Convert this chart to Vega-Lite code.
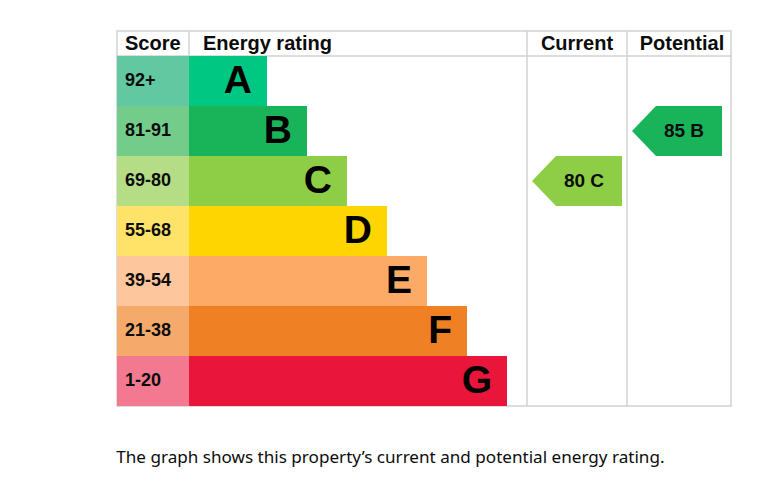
{
  "$schema": "https://vega.github.io/schema/vega-lite/v6.json",
  "width": 614,
  "height": 375,
  "autosize": {"type": "none"},
  "padding": {"left": 117, "top": 31, "right": 51, "bottom": 79},
  "background": "white",
  "view": {"stroke": "#d2d2d2", "strokeWidth": 1.5},
  "config": {"font": "Liberation Sans"},
  "title": {
    "text": "The graph shows this property’s current and potential energy rating.",
    "orient": "bottom",
    "anchor": "start",
    "offset": 42,
    "font": "Noto Sans",
    "fontSize": 17.1,
    "fontWeight": "normal",
    "color": "#0b0c0c"
  },
  "datasets": {
    "header": [
      {"label": "Score", "pos": 8, "kind": "left", "row": "Header"},
      {"label": "Energy rating", "pos": 86, "kind": "left", "row": "Header"},
      {"label": "Current", "pos": 460, "kind": "center", "row": "Header"},
      {"label": "Potential", "pos": 565, "kind": "center", "row": "Header"}
    ],
    "bands": [
      {"rating": "A", "range": "92+", "cellStart": 0, "barStart": 72, "barEnd": 150},
      {"rating": "B", "range": "81-91", "cellStart": 0, "barStart": 72, "barEnd": 190},
      {"rating": "C", "range": "69-80", "cellStart": 0, "barStart": 72, "barEnd": 230},
      {"rating": "D", "range": "55-68", "cellStart": 0, "barStart": 72, "barEnd": 270},
      {"rating": "E", "range": "39-54", "cellStart": 0, "barStart": 72, "barEnd": 310},
      {"rating": "F", "range": "21-38", "cellStart": 0, "barStart": 72, "barEnd": 350},
      {"rating": "G", "range": "1-20", "cellStart": 0, "barStart": 72, "barEnd": 390}
    ],
    "columns": [{"col": 72}, {"col": 410}, {"col": 510}],
    "arrows": [
      {"kind": "Current", "score": 80, "rating": "C", "center": 460},
      {"kind": "Potential", "score": 85, "rating": "B", "center": 560}
    ]
  },
  "layer": [
    {
      "data": {"name": "columns"},
      "mark": {"type": "rule", "color": "#d2d2d2", "strokeWidth": 1.5},
      "encoding": {
        "x": {"field": "col", "type": "quantitative", "axis": null, "scale": {"domain": [0, 614], "nice": false, "zero": false}}
      }
    },
    {
      "data": {"name": "bands"},
      "transform": [{"filter": "datum.rating === 'A'"}],
      "mark": {"type": "rule", "color": "#d2d2d2", "strokeWidth": 1.5},
      "encoding": {
        "y": {"field": "rating", "type": "nominal", "bandPosition": 0, "axis": null,
              "scale": {"domain": ["Header","A","B","C","D","E","F","G"], "range": [-25, 375], "paddingInner": 0, "paddingOuter": 0}}
      }
    },
    {
      "data": {"name": "bands"},
      "transform": [{"calculate": "datum.rating + ' score'", "as": "key"}],
      "mark": {"type": "rect", "opacity": 1},
      "encoding": {
        "y": {"field": "rating", "type": "nominal", "axis": null},
        "x": {"field": "cellStart", "type": "quantitative"},
        "x2": {"field": "barStart"},
        "color": {"field": "key", "type": "nominal", "legend": null,
                  "scale": {"domain": ["A","B","C","D","E","F","G","A score","B score","C score","D score","E score","F score","G score"],
                            "range": ["#00c781", "#19b459", "#8dce46", "#ffd500", "#fcaa65", "#ef8023", "#e9153b",
                                      "#62c8a1", "#74cc8b", "#b4dd86", "#ffe368", "#fec69d", "#f5a96b", "#f27990"]}}
      }
    },
    {
      "data": {"name": "bands"},
      "mark": {"type": "rect", "opacity": 1},
      "encoding": {
        "y": {"field": "rating", "type": "nominal", "axis": null},
        "x": {"field": "barStart", "type": "quantitative"},
        "x2": {"field": "barEnd"},
        "color": {"field": "rating", "type": "nominal", "legend": null}
      }
    },
    {
      "data": {"name": "bands"},
      "mark": {"type": "text", "align": "left", "baseline": "middle", "dx": 8, "fontSize": 18, "fontWeight": "bold", "color": "#0b0c0c"},
      "encoding": {
        "y": {"field": "rating", "type": "nominal", "axis": null},
        "x": {"field": "cellStart", "type": "quantitative"},
        "text": {"field": "range"}
      }
    },
    {
      "data": {"name": "bands"},
      "mark": {"type": "text", "align": "right", "baseline": "middle", "dx": -15, "fontSize": 39, "fontWeight": "bold", "color": "#000000"},
      "encoding": {
        "y": {"field": "rating", "type": "nominal", "axis": null},
        "x": {"field": "barEnd", "type": "quantitative"},
        "text": {"field": "rating"}
      }
    },
    {
      "data": {"name": "header"},
      "transform": [{"filter": "datum.kind === 'left'"}],
      "mark": {"type": "text", "align": "left", "baseline": "middle", "fontSize": 20, "fontWeight": "bold", "color": "#0b0c0c"},
      "encoding": {
        "y": {"field": "row", "type": "nominal", "bandPosition": 0.75, "axis": null},
        "x": {"field": "pos", "type": "quantitative"},
        "text": {"field": "label"}
      }
    },
    {
      "data": {"name": "header"},
      "transform": [{"filter": "datum.kind === 'center'"}],
      "mark": {"type": "text", "align": "center", "baseline": "middle", "fontSize": 20, "fontWeight": "bold", "color": "#0b0c0c"},
      "encoding": {
        "y": {"field": "row", "type": "nominal", "bandPosition": 0.75, "axis": null},
        "x": {"field": "pos", "type": "quantitative"},
        "text": {"field": "label"}
      }
    },
    {
      "data": {"name": "arrows"},
      "mark": {"type": "point", "filled": true, "opacity": 1, "strokeWidth": 0, "size": 8100,
               "shape": "M -1 0 L -0.4667 -0.5556 L 1 -0.5556 L 1 0.5556 L -0.4667 0.5556 Z"},
      "encoding": {
        "y": {"field": "rating", "type": "nominal", "axis": null},
        "x": {"field": "center", "type": "quantitative"},
        "color": {"field": "rating", "type": "nominal", "legend": null}
      }
    },
    {
      "data": {"name": "arrows"},
      "transform": [{"calculate": "datum.score + '  ' + datum.rating", "as": "label"}],
      "mark": {"type": "text", "align": "center", "baseline": "middle", "dx": 7, "fontSize": 19, "fontWeight": "bold", "color": "#0b0c0c"},
      "encoding": {
        "y": {"field": "rating", "type": "nominal", "axis": null},
        "x": {"field": "center", "type": "quantitative"},
        "text": {"field": "label"}
      }
    }
  ]
}
